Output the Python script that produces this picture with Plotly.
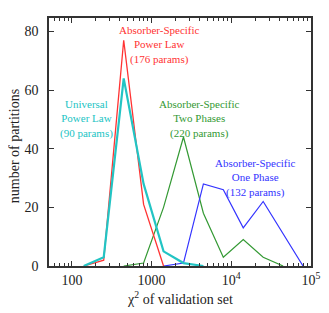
import plotly.graph_objects as go

chi2_bins = [141, 251, 447, 794, 1413, 2512, 4467, 7943, 14125, 25119, 44668, 79433]

red_x = [141, 251, 447, 794, 1413]
red_y = [0, 2, 77, 21, 0]

cyan_x = [141, 251, 447, 794, 1413, 2512, 4467]
cyan_y = [0, 3, 64, 28, 5, 1, 0]

green_x = [447, 794, 1413, 2512, 4467, 7943, 14125, 25119, 44668]
green_y = [0, 1, 20, 44, 18, 3, 9, 3, 0]

blue_x = [1413, 2512, 4467, 7943, 14125, 25119, 44668, 79433]
blue_y = [0, 1, 28, 26, 13, 22, 11, 0]

major_vals = [100, 1000, 10000, 100000]
major_text = ["100", "1000", "10<sup>4</sup>", "10<sup>5</sup>"]
minor_vals = [m * d for d in (10, 100, 1000, 10000) for m in range(2, 10)]

y_ticks = [0, 20, 40, 60, 80]

FONT = "Liberation Serif, Times New Roman, serif"

fig = go.Figure()
fig.add_trace(go.Scatter(x=green_x, y=green_y, mode="lines",
                         line=dict(color="#339933", width=1.2)))
fig.add_trace(go.Scatter(x=blue_x, y=blue_y, mode="lines",
                         line=dict(color="#3333ff", width=1.2)))
fig.add_trace(go.Scatter(x=red_x, y=red_y, mode="lines",
                         line=dict(color="#ff3333", width=1.3)))
fig.add_trace(go.Scatter(x=cyan_x, y=cyan_y, mode="lines",
                         line=dict(color="#22c4c4", width=2.2)))

ann_font = dict(family=FONT, size=11)
fig.add_annotation(x=3.10, y=75.3, xref="x", yref="y", showarrow=False,
                   text="Absorber-Specific<br>Power Law<br>(176 params)",
                   font=dict(color="#ff3333", **ann_font))
fig.add_annotation(x=2.187, y=50.0, xref="x", yref="y", showarrow=False,
                   text="Universal<br>Power Law<br>(90 params)",
                   font=dict(color="#22c4c4", **ann_font))
fig.add_annotation(x=3.607, y=50.0, xref="x", yref="y", showarrow=False,
                   text="Absorber-Specific<br>Two Phases<br>(220 params)",
                   font=dict(color="#339933", **ann_font))
fig.add_annotation(x=4.303, y=30.0, xref="x", yref="y", showarrow=False,
                   text="Absorber-Specific<br>One Phase<br>(132 params)",
                   font=dict(color="#3333ff", **ann_font))

# axis titles as annotations for exact placement
fig.add_annotation(x=0, y=0.483, xref="paper", yref="paper", xshift=-35,
                   showarrow=False, textangle=-90, xanchor="center", yanchor="middle",
                   text="number of partitions", font=dict(family=FONT, size=14, color="#222"))
fig.add_annotation(x=0.5, y=0, xref="paper", yref="paper", yshift=-32,
                   showarrow=False, xanchor="center", yanchor="middle",
                   text="χ<sup>2</sup> of validation set", font=dict(family=FONT, size=14, color="#222"))

# page body has an 8px default margin; compensate so the plot lands where the reference's does
fig.update_layout(
    width=321, height=305,
    margin=dict(l=41, r=16, t=8, b=47),
    paper_bgcolor="white", plot_bgcolor="white",
    showlegend=False,
    font=dict(family=FONT, size=14, color="#222"),
)
fig.update_xaxes(
    type="log", range=[1.713, 5],
    tickvals=major_vals, ticktext=major_text,
    ticks="inside", ticklen=5, tickwidth=1, tickcolor="#333",
    minor=dict(tickvals=minor_vals, ticks="inside", ticklen=3, tickwidth=1, tickcolor="#333"),
    showline=True, linecolor="#333", linewidth=1.5, mirror="ticks",
    showgrid=False, zeroline=False,
    tickfont=dict(family=FONT, size=14),
)
fig.update_yaxes(
    range=[0, 84.6],
    tickvals=y_ticks,
    ticks="inside", ticklen=5, tickwidth=1, tickcolor="#333",
    showline=True, linecolor="#333", linewidth=1.5, mirror="ticks",
    showgrid=False, zeroline=False,
    ticklabelstandoff=6,
    tickfont=dict(family=FONT, size=14),
)

fig.write_html("out.html")
